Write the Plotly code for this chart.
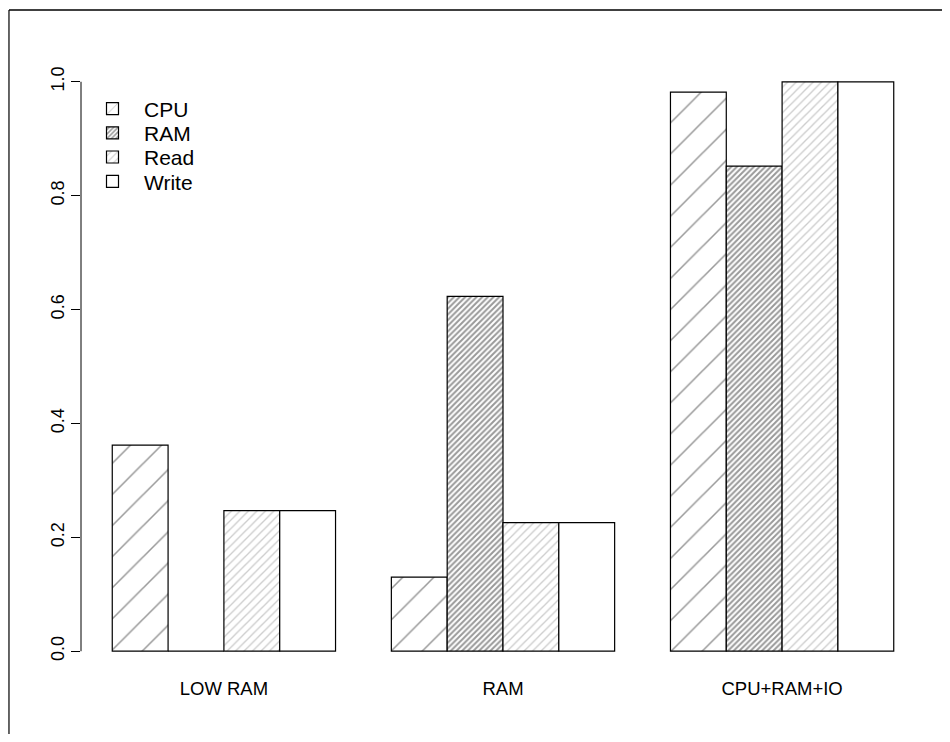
import plotly.graph_objects as go

categories = ["LOW RAM", "RAM", "CPU+RAM+IO"]
series_names = ["CPU", "RAM", "Read", "Write"]
cpu_values = [0.362, 0.130, 0.982]
ram_values = [0.0, 0.623, 0.852]
read_values = [0.247, 0.226, 1.0]
write_values = [0.247, 0.226, 1.0]
y_tick_values = [0.0, 0.2, 0.4, 0.6, 0.8, 1.0]
y_tick_labels = ["0.0", "0.2", "0.4", "0.6", "0.8", "1.0"]

series_values = [cpu_values, ram_values, read_values, write_values]
patterns = [
    dict(shape="/", size=22, solidity=0.07, fgcolor="#333333", bgcolor="white"),
    dict(shape="/", size=4, solidity=0.5, fgcolor="#333333", bgcolor="white"),
    dict(shape="/", size=6, solidity=0.22, fgcolor="#999999", bgcolor="white"),
    dict(shape="", bgcolor="white"),
]
legend_ids = ["legend", "legend2", "legend3", "legend4"]
legend_centers = [101, 125.3, 149.3, 173.7]

# page body has an 8px margin: figure coordinates are screen coordinates - 8,
# and the figure is sized so the page does not overflow (no scrollbars)
W, H = 934, 726
ML, MR, MT, MB = 73, 17.3, 51, 60.2
PH = H - MT - MB
PW = W - ML - MR

fig = go.Figure()
for name, vals, pat, lid in zip(series_names, series_values, patterns, legend_ids):
    fig.add_trace(go.Bar(
        x=categories, y=vals, name=name, legend=lid,
        marker=dict(color="white", pattern=pat,
                    line=dict(color="black", width=1.2)),
    ))

layout_legends = {}
for lid, cy in zip(legend_ids, legend_centers):
    layout_legends[lid] = dict(
        x=0.0, xanchor="left", y=(H - MB - cy) / PH, yanchor="middle",
        bgcolor="rgba(0,0,0,0)", borderwidth=0, itemwidth=53,
        font=dict(family="Liberation Sans, Arial, sans-serif", size=21, color="black"),
        itemclick=False, itemdoubleclick=False,
    )

frame_x = (1 - ML) / PW
frame_y = (H - MB - 2) / PH
right_x = (W - ML) / PW
bottom_y = -MB / PH

fig.update_layout(
    width=W, height=H,
    margin=dict(l=ML, r=MR, t=MT, b=MB, pad=0),
    plot_bgcolor="white", paper_bgcolor="white",
    barmode="group", bargap=0.2, bargroupgap=0,
    font=dict(family="Liberation Sans, Arial, sans-serif", color="black"),
    showlegend=True,
    **layout_legends,
    xaxis=dict(
        type="category", range=[-0.512, 2.512], showgrid=False, zeroline=False,
        showline=False, ticks="", tickfont=dict(size=18.5, color="black"),
        ticklabelstandoff=1,
    ),
    yaxis=dict(
        range=[-0.04, 1.04], tickvals=y_tick_values, ticktext=y_tick_labels,
        tickangle=-90, showgrid=False, zeroline=False, showline=False,
        ticks="outside", ticklen=9, tickwidth=1, tickcolor="black",
        tickfont=dict(size=18, color="black"),
    ),
    shapes=[
        # y axis line (from first to last tick, R style)
        dict(type="line", xref="paper", yref="y", x0=0, x1=0, y0=0, y1=1,
             line=dict(color="black", width=1)),
        # outer figure frame: top and left edges only
        dict(type="line", xref="paper", yref="paper",
             x0=frame_x, x1=right_x, y0=frame_y, y1=frame_y,
             line=dict(color="black", width=1.5), layer="below"),
        dict(type="line", xref="paper", yref="paper",
             x0=frame_x, x1=frame_x, y0=bottom_y, y1=frame_y,
             line=dict(color="black", width=1.2), layer="below"),
    ],
)

fig.write_html("out.html")
